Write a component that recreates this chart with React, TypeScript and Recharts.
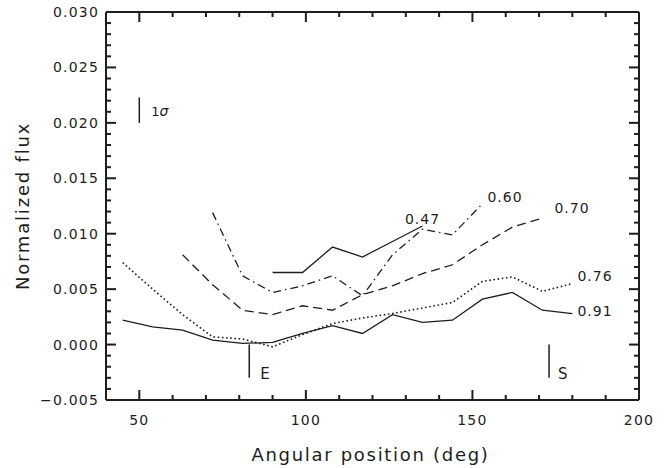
import { LineChart, Line, XAxis, YAxis, ReferenceLine, LabelList, Label } from 'recharts'

// angular positions (deg) sampled every 9 degrees
const angles = [45, 54, 63, 72, 81, 90, 99, 108, 117, 126, 135, 144, 153, 162, 171, 180]

const flux091 = [0.0022, 0.0016, 0.0013, 0.0004, 0.0001, 0.0002, 0.001, 0.0017, 0.001, 0.0027, 0.002, 0.0022, 0.0041, 0.0047, 0.0031, 0.0028]
const flux076 = [0.0074, 0.005, 0.0027, 0.0007, 0.0005, -0.0002, 0.0009, 0.0019, 0.0024, 0.0028, 0.0033, 0.0038, 0.0057, 0.0061, 0.0048, 0.0055]
const flux070 = [null, null, 0.0081, 0.0054, 0.0031, 0.0027, 0.0035, 0.0031, 0.0045, 0.0053, 0.0064, 0.0072, 0.009, 0.0106, 0.0114, null]
const flux060 = [null, null, null, 0.0119, 0.0062, 0.0047, 0.0053, 0.0062, 0.0044, 0.0081, 0.0104, 0.0099, 0.0127, null, null, null]
const flux047 = [null, null, null, null, null, 0.0065, 0.0065, 0.0088, 0.0079, 0.0093, 0.0107, null, null, null, null, null]

const xDomain = [40, 200]
const yDomain = [-0.005, 0.03]
const xTicks = [50, 60, 70, 80, 90, 100, 110, 120, 130, 140, 150, 160, 170, 180, 190]
const xLabels = [50, 100, 150, 200]
const yMajor = [-0.005, 0, 0.005, 0.01, 0.015, 0.02, 0.025, 0.03]
const yTicks = Array.from({ length: 36 }, (_, i) => (i - 5) / 1000)

// E / S markers and the 1 sigma bar
const markerAngles = [83, 173]
const markerNames = ['E', 'S']
const markerRange = [0, -0.003]
const sigmaAngle = 50
const sigmaRange = [0.02, 0.0223]

const data = angles.map((angle, i) => ({
  angle,
  f091: flux091[i],
  f076: flux076[i],
  f070: flux070[i],
  f060: flux060[i],
  f047: flux047[i],
}))

const INK = '#1e1e1e'
const FONT = '"DejaVu Sans", sans-serif'
const TICK_W = 2

const lastIndex = (arr: (number | null)[]) => {
  let k = -1
  arr.forEach((v, i) => { if (v !== null) k = i })
  return k
}

const isMajorY = (v: number) => yMajor.some((m) => Math.abs(m - v) < 1e-9)
const fmtY = (v: number) => (v < 0 ? '\u2212' + Math.abs(v).toFixed(3) : v.toFixed(3))

// inward tick marks at both ends of a full-height / full-width reference line
function xTickShape(len: number) {
  return (props: any) => {
    const x = Number(props.x1)
    const top = Math.min(Number(props.y1), Number(props.y2))
    const bottom = Math.max(Number(props.y1), Number(props.y2))
    return (
      <g>
        <rect x={x - TICK_W / 2} y={bottom - len} width={TICK_W} height={len} fill={INK} />
        <rect x={x - TICK_W / 2} y={top} width={TICK_W} height={len} fill={INK} />
      </g>
    )
  }
}

function yTickShape(len: number) {
  return (props: any) => {
    const y = Number(props.y1)
    const left = Math.min(Number(props.x1), Number(props.x2))
    const right = Math.max(Number(props.x1), Number(props.x2))
    return (
      <g>
        <rect x={left} y={y - TICK_W / 2} width={len} height={TICK_W} fill={INK} />
        <rect x={right - len} y={y - TICK_W / 2} width={len} height={TICK_W} fill={INK} />
      </g>
    )
  }
}

function XTitle({ viewBox }: any) {
  return (
    <text x={viewBox.x + viewBox.width / 2 - 2} y={viewBox.y + 61} textAnchor="middle" fontSize={18} letterSpacing={1.7} fill={INK} fontFamily={FONT}>
      Angular position (deg)
    </text>
  )
}

function YTitle({ viewBox }: any) {
  const cx = viewBox.x + 22
  const cy = viewBox.y + viewBox.height / 2
  return (
    <text x={cx} y={cy} transform={`rotate(-90 ${cx} ${cy})`} textAnchor="middle" dominantBaseline="central" fontSize={18} letterSpacing={1.8} fill={INK} fontFamily={FONT}>
      Normalized flux
    </text>
  )
}

function endLabel(text: string, last: number, dx: number, dy: number, anchor = 'start') {
  return (props: any) => {
    if (props.index !== last) return null
    const x = props.x ?? props.viewBox?.x
    const y = props.y ?? props.viewBox?.y
    return (
      <text x={x + dx} y={y + dy} textAnchor={anchor} fontSize={14} letterSpacing={1} fill={INK} fontFamily={FONT}>
        {text}
      </text>
    )
  }
}

function markerShape(name: string, dx: number) {
  return (props: any) => {
    const { x1, y1, x2, y2 } = props
    return (
      <g>
        <line x1={x1} y1={y1} x2={x2} y2={y2} stroke={INK} strokeWidth={1.5} />
        <text x={x1 + dx} y={Math.max(y1, y2) + 1} fontSize={15} fill={INK} fontFamily={FONT}>
          {name}
        </text>
      </g>
    )
  }
}

function sigmaShape(props: any) {
  const { x1, y1, x2, y2 } = props
  return (
    <g>
      <line x1={x1} y1={y1} x2={x2} y2={y2} stroke={INK} strokeWidth={1.5} />
      <text x={x1 + 12} y={(y1 + y2) / 2 + 6} fontSize={13} fill={INK} fontFamily={FONT}>
        1<tspan fontStyle="italic" fontSize={14}>σ</tspan>
      </text>
    </g>
  )
}

const tickText = { fontSize: 14, fill: INK, fontFamily: FONT, letterSpacing: 1.2 }

export default function App() {
  const lineProps = { stroke: INK, strokeWidth: 1.3, dot: false, isAnimationActive: false, connectNulls: false }
  return (
    <div style={{ position: 'absolute', left: 0, top: 0, background: '#fff' }}>
      <LineChart width={668} height={468} data={data} margin={{ top: 12, right: 29, bottom: 0, left: 0 }}>
        <XAxis
          dataKey="angle"
          type="number"
          domain={xDomain}
          ticks={xLabels}
          tickLine={false}
          tickMargin={9}
          tick={tickText}
          stroke={INK}
          strokeWidth={2}
          height={68}
        >
          <Label content={XTitle} />
        </XAxis>
        <YAxis
          type="number"
          domain={yDomain}
          ticks={yMajor}
          tickLine={false}
          tickMargin={1}
          tickFormatter={fmtY}
          tick={tickText}
          stroke={INK}
          strokeWidth={2}
          width={106}
        >
          <Label content={YTitle} />
        </YAxis>

        {/* top and right frame */}
        <ReferenceLine x={xDomain[1]} ifOverflow="visible" stroke={INK} strokeWidth={2} />
        <ReferenceLine y={yDomain[1]} ifOverflow="visible" stroke={INK} strokeWidth={2} />

        {xTicks.map((v) => (
          <ReferenceLine key={`xt${v}`} x={v} ifOverflow="visible" shape={xTickShape(v % 50 === 0 ? 10 : 5)} />
        ))}
        {yTicks.map((v) => (
          <ReferenceLine key={`yt${v}`} y={v} ifOverflow="visible" shape={yTickShape(isMajorY(v) ? 10 : 5)} />
        ))}

        <Line dataKey="f091" {...lineProps}>
          <LabelList dataKey="f091" content={endLabel('0.91', lastIndex(flux091), 5, 2)} />
        </Line>
        <Line dataKey="f076" {...lineProps} strokeWidth={1.6} strokeDasharray="1.6 2.6">
          <LabelList dataKey="f076" content={endLabel('0.76', lastIndex(flux076), 5, -3)} />
        </Line>
        <Line dataKey="f070" {...lineProps} strokeDasharray="9 5">
          <LabelList dataKey="f070" content={endLabel('0.70', lastIndex(flux070), 12, -5)} />
        </Line>
        <Line dataKey="f060" {...lineProps} strokeDasharray="8 4 1.5 4">
          <LabelList dataKey="f060" content={endLabel('0.60', lastIndex(flux060), 5, -2)} />
        </Line>
        <Line dataKey="f047" {...lineProps}>
          <LabelList dataKey="f047" content={endLabel('0.47', lastIndex(flux047), 0, -2, 'middle')} />
        </Line>

        {markerAngles.map((a, i) => (
          <ReferenceLine
            key={markerNames[i]}
            segment={[{ x: a, y: markerRange[0] }, { x: a, y: markerRange[1] }]}
            shape={markerShape(markerNames[i], i === 0 ? 11 : 9)}
          />
        ))}
        <ReferenceLine
          segment={[{ x: sigmaAngle, y: sigmaRange[0] }, { x: sigmaAngle, y: sigmaRange[1] }]}
          shape={sigmaShape}
        />
      </LineChart>
    </div>
  )
}
